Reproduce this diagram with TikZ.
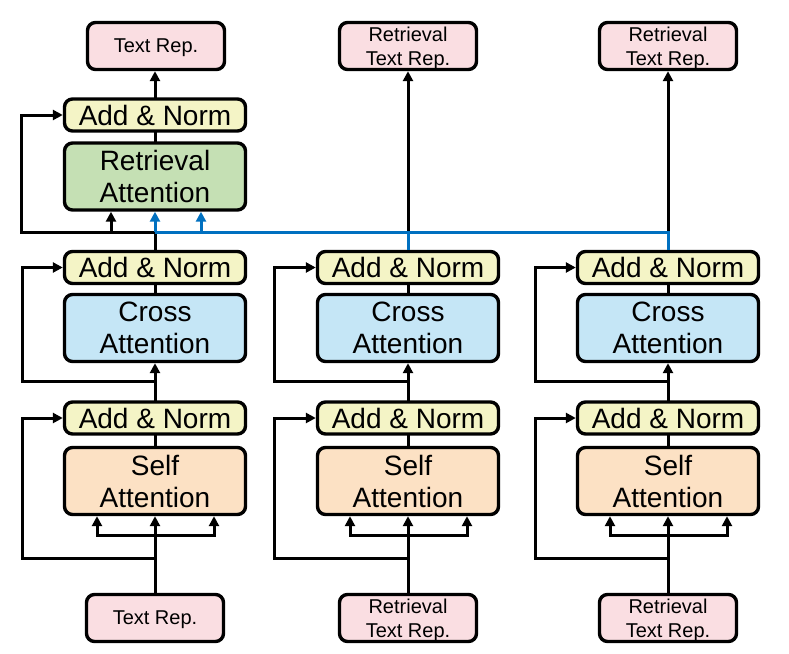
\documentclass[tikz,border=0pt]{standalone}
\usepackage{fontspec}
\setmainfont{Liberation Sans}
\usetikzlibrary{arrows.meta}

\definecolor{normfill}{RGB}{244,244,198}
\definecolor{retrfill}{RGB}{197,224,180}
\definecolor{crossfill}{RGB}{197,230,246}
\definecolor{selffill}{RGB}{252,225,196}
\definecolor{repfill}{RGB}{250,222,226}
\definecolor{retrblue}{RGB}{0,112,192}

\begin{document}
\begin{tikzpicture}[x=1pt,y=1pt]
\tikzstyle{box}=[draw, line width=3.4pt, rounded corners=8pt, align=center, inner sep=0pt, text depth=0pt, font=\fontsize{28}{32}\selectfont]
\tikzstyle{norm}=[box, fill=normfill, minimum width=181pt, minimum height=32pt]
\tikzstyle{attn}=[box, minimum width=181pt, minimum height=67pt]
\tikzstyle{rep}=[box, fill=repfill, minimum width=137pt, minimum height=47pt, font=\fontsize{20}{24}\selectfont]
\tikzstyle{line}=[line width=3pt, line cap=rect]
\tikzstyle{link}=[line, -{Triangle[length=10pt,width=10pt]}]
\tikzstyle{blueline}=[line width=3pt, retrblue]
\tikzstyle{bluelink}=[blueline, -{Triangle[length=10pt,width=10pt]}]
\useasboundingbox (0,0) rectangle (789,-653);
% left column
\node[rep] (outA) at (156,-46) {Text Rep.};
\node[norm] (rnorm) at (155,-115) {Add \& Norm};
\node[attn, fill=retrfill] (retr) at (155,-176.5) {Retrieval\\Attention};
\node[norm] (cnormA) at (155,-267.5) {Add \& Norm};
\node[attn, fill=crossfill] (crossA) at (155,-328) {Cross\\Attention};
\node[norm] (snormA) at (155,-418) {Add \& Norm};
\node[attn, fill=selffill] (selfA) at (155,-481) {Self\\Attention};
\node[rep] (inA) at (155,-618) {Text Rep.};
% middle column
\node[rep] (outB) at (408,-46) {Retrieval\\Text Rep.};
\node[norm] (cnormB) at (408,-267.5) {Add \& Norm};
\node[attn, fill=crossfill] (crossB) at (408,-328) {Cross\\Attention};
\node[norm] (snormB) at (408,-418) {Add \& Norm};
\node[attn, fill=selffill] (selfB) at (408,-481) {Self\\Attention};
\node[rep] (inB) at (408,-618) {Retrieval\\Text Rep.};
% right column
\node[rep] (outC) at (668,-46) {Retrieval\\Text Rep.};
\node[norm] (cnormC) at (668,-267.5) {Add \& Norm};
\node[attn, fill=crossfill] (crossC) at (668,-328) {Cross\\Attention};
\node[norm] (snormC) at (668,-418) {Add \& Norm};
\node[attn, fill=selffill] (selfC) at (668,-481) {Self\\Attention};
\node[rep] (inC) at (668,-618) {Retrieval\\Text Rep.};

\draw[link] (inA.north) -- (selfA.south);
\draw[link] ([yshift=57pt]inA.north) -| ([xshift=-58pt]selfA.south);
\draw[link] ([yshift=57pt]inA.north) -| ([xshift=59pt]selfA.south);
\draw[link] ([yshift=34pt]inA.north) -| ([xshift=-133pt]snormA.center) -- (snormA.west);
\draw[line] (selfA.north) -- (snormA.south);
\draw[link] (snormA.north) -- (crossA.south);
\draw[link] ([yshift=19pt]snormA.north) -| ([xshift=-133pt]cnormA.center) -- (cnormA.west);
\draw[line] (crossA.north) -- (cnormA.south);

\draw[link] (inB.north) -- (selfB.south);
\draw[link] ([yshift=57pt]inB.north) -| ([xshift=-58pt]selfB.south);
\draw[link] ([yshift=57pt]inB.north) -| ([xshift=59pt]selfB.south);
\draw[link] ([yshift=34pt]inB.north) -| ([xshift=-134pt]snormB.center) -- (snormB.west);
\draw[line] (selfB.north) -- (snormB.south);
\draw[link] (snormB.north) -- (crossB.south);
\draw[link] ([yshift=19pt]snormB.north) -| ([xshift=-134pt]cnormB.center) -- (cnormB.west);
\draw[line] (crossB.north) -- (cnormB.south);

\draw[link] (inC.north) -- (selfC.south);
\draw[link] ([yshift=57pt]inC.north) -| ([xshift=-58pt]selfC.south);
\draw[link] ([yshift=57pt]inC.north) -| ([xshift=59pt]selfC.south);
\draw[link] ([yshift=34pt]inC.north) -| ([xshift=-133pt]snormC.center) -- (snormC.west);
\draw[line] (selfC.north) -- (snormC.south);
\draw[link] (snormC.north) -- (crossC.south);
\draw[link] ([yshift=19pt]snormC.north) -| ([xshift=-133pt]cnormC.center) -- (cnormC.west);
\draw[line] (crossC.north) -- (cnormC.south);

% retrieval block
\coordinate (hub) at (155,-232);
\draw[line] (cnormA.north) -- (hub);
\draw[link] (hub) -| ([xshift=-134pt]rnorm.center) -- (rnorm.west);
\draw[link] ([xshift=-44pt]hub) -- ([xshift=-44pt]retr.south);
\draw[line] (retr.north) -- (rnorm.south);
\draw[link] (rnorm.north) -- (rnorm.north |- outA.south);
\draw[link] (hub -| cnormB.north) -- (outB.south);
\draw[link] (hub -| cnormC.north) -- (outC.south);
\draw[blueline] (cnormC.north) |- (hub);
\draw[blueline] (cnormB.north) -- (hub -| cnormB.north);
\draw[bluelink] (hub) -- (retr.south);
\draw[bluelink] ([xshift=46pt]hub) -- ([xshift=46pt]retr.south);
\end{tikzpicture}
\end{document}
